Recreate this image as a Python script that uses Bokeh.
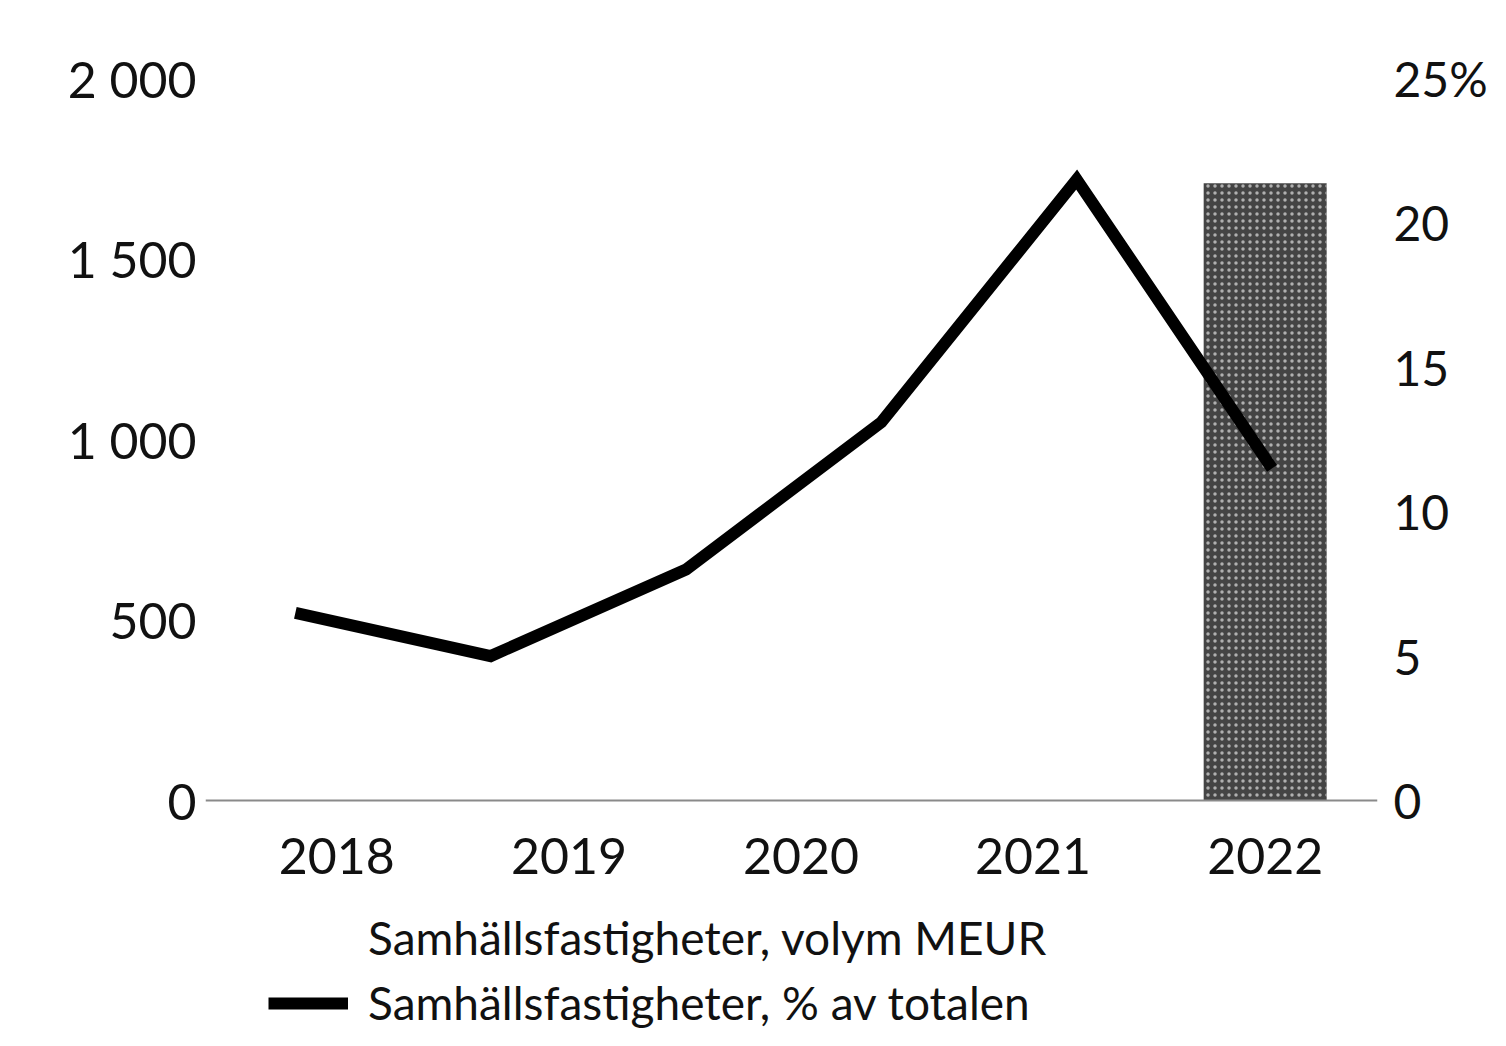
from bokeh.plotting import figure
from bokeh.models import (Range1d, LinearAxis, FixedTicker, Legend, LegendItem,
                          ColumnDataSource, Span)
from bokeh.core.properties import value
from bokeh.embed import file_html
from bokeh.resources import INLINE

# ---- data ----
years = ["2018", "2019", "2020", "2021", "2022"]
highlight_years = ["2022"]
highlight_volume = [1710]          # MEUR, hatched bar
line_periods = [1, 2, 3, 4, 5, 6]
line_share_pct = [6.5, 5.0, 8.0, 13.1, 21.5, 11.5]
left_ticks = [0, 500, 1000, 1500, 2000]
left_labels = ["0", "500", "1 000", "1 500", "2 000"]
right_ticks = [0, 5, 10, 15, 20, 25]
right_labels = ["0", "5", "10", "15", "20", "25%"]
legend_labels = ["Samhällsfastigheter, volym MEUR", "Samhällsfastigheter, % av totalen"]

FONT = "Lato"
TXT = "#111111"

# layout (pixels)
W, H = 1490, 1030
TOP, BASE = 78, 800          # pixel rows of the axis max and of zero
LEFT, RIGHT = 205, 1383
below_frac = (H - BASE) / (BASE - TOP)   # room below zero for labels + legend

left_max, right_max = 2000, 25

year_centers = [i + 0.5 for i in range(len(years))]
hl_x = [years.index(y) + 0.5 for y in highlight_years]

p = figure(width=W, height=H, x_range=Range1d(-0.066, len(years) - 0.016),
           y_range=Range1d(-left_max * below_frac, left_max),
           output_backend="svg", toolbar_location=None,
           min_border_left=LEFT, min_border_right=W - RIGHT, min_border_top=TOP,
           min_border_bottom=0)
p.extra_y_ranges = {"pct": Range1d(-right_max * below_frac, right_max)}
p.extra_x_ranges = {"per": Range1d(0.54, len(line_periods) + 0.54)}
p.outline_line_color = None
p.grid.visible = False
p.background_fill_color = "white"
p.border_fill_color = "white"
p.xaxis.visible = False

# left axis
ya = p.yaxis[0]
ya.ticker = FixedTicker(ticks=left_ticks)
ya.major_label_overrides = {t: l for t, l in zip(left_ticks, left_labels)}
ya.axis_line_color = None
ya.major_tick_line_color = None
ya.minor_tick_line_color = None
ya.major_label_text_font = FONT
ya.major_label_text_font_size = "50px"
ya.major_label_text_color = TXT
ya.major_label_standoff = 3

# right axis
ra = LinearAxis(y_range_name="pct", ticker=FixedTicker(ticks=right_ticks))
ra.major_label_overrides = {t: l for t, l in zip(right_ticks, right_labels)}
ra.axis_line_color = None
ra.major_tick_line_color = None
ra.minor_tick_line_color = None
ra.major_label_text_font = FONT
ra.major_label_text_font_size = "48px"
ra.major_label_text_color = TXT
ra.major_label_standoff = 10
p.add_layout(ra, "right")

# baseline (category axis line)
p.add_layout(Span(location=0, dimension="width", line_color="#8a8a8a", line_width=2))

# category labels under the baseline
p.text(x=year_centers, y=[0] * len(years), text=years, y_offset=55,
       text_align="center", text_baseline="middle", text_font=value(FONT),
       text_font_size="50px", text_color=TXT)

# hatched bar
p.vbar(x=hl_x, top=highlight_volume, width=0.53,
       fill_color="#444444", line_color=None,
       hatch_pattern="dot", hatch_color="#b0b0b0", hatch_scale=7, hatch_weight=2)

# volume series (white bars) for the legend
vol_r = p.vbar(x="x", top="top", width=0.53, fill_color="white", line_color=None,
               source=ColumnDataSource(dict(x=[], top=[])))

line_r = p.line(x=line_periods, y=line_share_pct, x_range_name="per", y_range_name="pct",
                line_width=12, line_color="black", line_join="miter")

legend = Legend(items=[LegendItem(label=legend_labels[0], renderers=[vol_r]),
                       LegendItem(label=legend_labels[1], renderers=[line_r])],
                location=(63, 0), orientation="vertical",
                glyph_width=80, glyph_height=48, label_standoff=20, spacing=10,
                padding=0, margin=0, background_fill_alpha=0, border_line_color=None,
                label_text_font=FONT, label_text_font_size="46px",
                label_text_color=TXT, label_height=48)
p.add_layout(legend)

open("out.html", "w").write(file_html(p, INLINE))
